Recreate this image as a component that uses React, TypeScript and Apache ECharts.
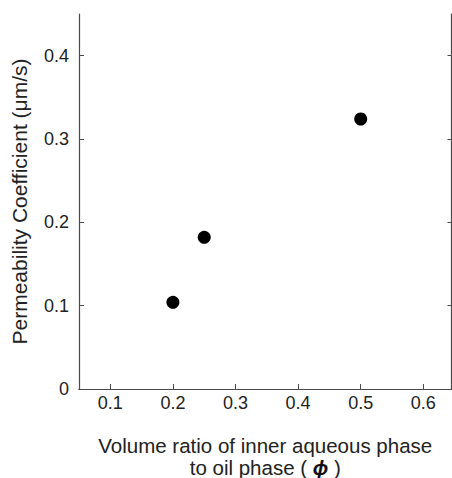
import React, { useEffect, useRef } from "react";
import * as echarts from "echarts";

const phiValues = [0.2, 0.25, 0.5];
const permeability = [0.104, 0.182, 0.324];
const xTicks = [0.1, 0.2, 0.3, 0.4, 0.5, 0.6];
const yTicks = [0, 0.1, 0.2, 0.3, 0.4];

export default function App() {
  const ref = useRef<HTMLDivElement>(null);
  useEffect(() => {
    if (!ref.current) return;
    const chart = echarts.init(ref.current, null, { renderer: "svg" });
    const axisColor = "#4a4a4a";
    const font = "'Liberation Sans', Arial, sans-serif";
    chart.setOption({
      animation: false,
      backgroundColor: "#ffffff",
      grid: { left: 79, right: 0.5, top: 14, bottom: 89, containLabel: false, outerBoundsMode: "none" },
      xAxis: [
        {
          type: "value",
          min: 0.05,
          max: 0.645,
          position: "bottom",
          axisLine: { show: true, onZero: false, lineStyle: { color: axisColor, width: 1.2 } },
          axisTick: { show: true, inside: true, length: 5, customValues: xTicks, lineStyle: { color: axisColor } },
          axisLabel: {
            customValues: xTicks,
            formatter: (v: number) => v.toFixed(1),
            color: "#222",
            fontSize: 18,
            fontFamily: font,
            margin: 5,
          },
          splitLine: { show: false },
          name: "Volume ratio of inner aqueous phase\nto oil phase ( {b|ϕ} )",
          nameLocation: "middle",
          nameGap: 45,
          nameTextStyle: {
            color: "#222",
            fontSize: 20.5,
            fontFamily: font,
            lineHeight: 22,
            verticalAlign: "top",
            rich: {
              b: { fontSize: 20.5, lineHeight: 22, fontWeight: "bold", fontStyle: "italic", fontFamily: font, color: "#111" },
            },
          },
        },
        {
          type: "value",
          min: 0.05,
          max: 0.645,
          position: "top",
          axisLine: { show: true, lineStyle: { color: axisColor, width: 1.2 } },
          axisTick: { show: false },
          axisLabel: { show: false },
          splitLine: { show: false },
        },
      ],
      yAxis: [
        {
          type: "value",
          min: 0,
          max: 0.45,
          position: "left",
          axisLine: { show: true, onZero: false, lineStyle: { color: axisColor, width: 1.2 } },
          axisTick: { show: true, inside: true, length: 5, customValues: yTicks, lineStyle: { color: axisColor } },
          axisLabel: {
            customValues: yTicks,
            formatter: (v: number) => (v === 0 ? "0" : v.toFixed(1)),
            color: "#222",
            fontSize: 18,
            fontFamily: font,
            margin: 10,
          },
          splitLine: { show: false },
          name: "Permeability Coefficient (μm/s)",
          nameLocation: "middle",
          nameGap: 49.5,
          nameTextStyle: { color: "#222", fontSize: 21, fontFamily: font },
        },
        {
          type: "value",
          min: 0,
          max: 0.45,
          position: "right",
          axisLine: { show: true, onZero: false, lineStyle: { color: axisColor, width: 1.2 } },
          axisTick: { show: true, inside: true, length: 4, customValues: yTicks, lineStyle: { color: axisColor } },
          axisLabel: { show: false },
          splitLine: { show: false },
        },
      ],
      series: [
        {
          type: "scatter",
          xAxisIndex: 0,
          yAxisIndex: 0,
          symbol: "circle",
          symbolSize: 13,
          itemStyle: { color: "#000", opacity: 1 },
          data: phiValues.map((x, i) => [x, permeability[i]]),
        },
      ],
    });
    return () => chart.dispose();
  }, []);
  return (
    <div
      ref={ref}
      style={{ position: "fixed", left: 0, top: 0, width: 452, height: 478 }}
    />
  );
}
